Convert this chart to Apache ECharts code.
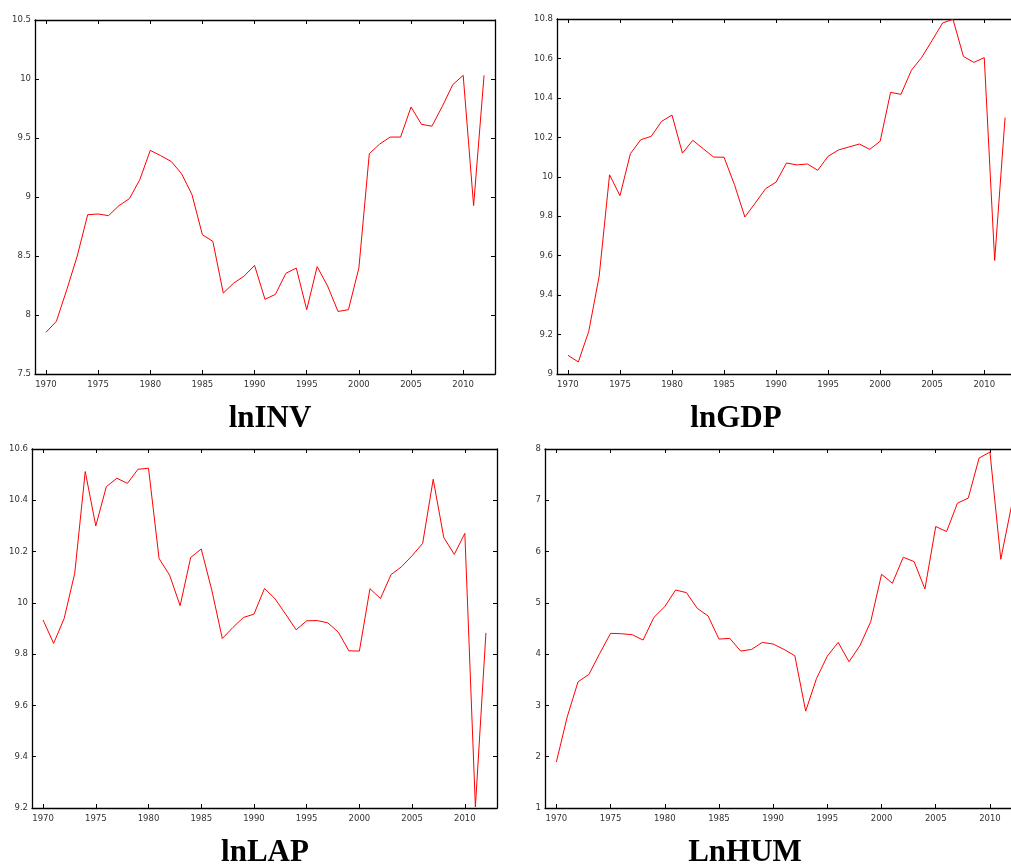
<!DOCTYPE html>
<html>
<head>
<meta charset="utf-8">
<script src="https://cdn.jsdelivr.net/npm/echarts@6/dist/echarts.min.js"></script>
<style>
html,body{margin:0;padding:0;background:#fff;}
#chart{width:1011px;height:865px;}
</style>
</head>
<body>
<div id="chart"></div>
<script>
// ---- data ----
const years = [1970,1971,1972,1973,1974,1975,1976,1977,1978,1979,1980,1981,1982,1983,1984,1985,1986,1987,1988,1989,1990,1991,1992,1993,1994,1995,1996,1997,1998,1999,2000,2001,2002,2003,2004,2005,2006,2007,2008,2009,2010,2011,2012];
const xTicks = [1970,1975,1980,1985,1990,1995,2000,2005,2010];
const titles = ['lnINV','lnGDP','lnLAP','LnHUM'];
const lnINV = [7.853,7.946,8.215,8.50,8.85,8.856,8.842,8.927,8.986,9.147,9.395,9.35,9.302,9.198,9.02,8.68,8.624,8.186,8.27,8.33,8.42,8.133,8.175,8.353,8.398,8.045,8.41,8.246,8.03,8.045,8.398,9.367,9.449,9.508,9.508,9.763,9.616,9.60,9.768,9.952,10.031,8.927,10.031];
const lnGDP = [9.095,9.061,9.216,9.495,10.01,9.904,10.117,10.188,10.205,10.281,10.313,10.12,10.185,10.142,10.10,10.099,9.96,9.796,9.867,9.94,9.973,10.07,10.06,10.065,10.033,10.104,10.136,10.151,10.166,10.139,10.18,10.428,10.418,10.54,10.606,10.692,10.78,10.798,10.61,10.58,10.604,9.576,10.30];
const lnLAP = [9.933,9.842,9.939,10.115,10.512,10.30,10.453,10.486,10.466,10.521,10.525,10.173,10.108,9.989,10.177,10.21,10.05,9.861,9.904,9.943,9.956,10.056,10.016,9.956,9.895,9.93,9.931,9.922,9.886,9.813,9.812,10.055,10.017,10.11,10.141,10.184,10.232,10.482,10.255,10.189,10.271,9.204,9.883];
const LnHUM = [1.898,2.777,3.461,3.604,4.014,4.405,4.398,4.379,4.275,4.717,4.926,5.251,5.199,4.893,4.743,4.294,4.307,4.06,4.092,4.229,4.197,4.092,3.969,2.888,3.526,3.962,4.229,3.852,4.164,4.633,5.557,5.382,5.889,5.805,5.271,6.488,6.391,6.944,7.042,7.823,7.94,5.85,6.90];
const yRanges = [[7.5,10.5,0.5],[9,10.8,0.2],[9.2,10.6,0.2],[1,8,1]];
const seriesData = [lnINV, lnGDP, lnLAP, LnHUM];

// ---- layout ----
const grids = [
  {left:35,  top:20,  width:460, height:354},
  {left:557, top:19,  width:459, height:355},
  {left:32,  top:449, width:465, height:359},
  {left:545, top:449, width:478, height:359}
];
const titlePos = [[270,419],[736,419],[265,853],[745,853]];

const labelFont = {fontFamily:'DejaVu Sans', fontSize:8.5, color:'#333'};
const xAxis = [], yAxis = [], series = [], graphic = [];
grids.forEach((g, i) => {
  const xmin = 1968.95, xmax = 2013.05;
  xAxis.push({type:'value', gridIndex:i, position:'bottom', min:xmin, max:xmax,
    axisLine:{show:true, onZero:false, lineStyle:{color:'#000', width:1.3}},
    axisTick:{show:true, inside:true, length:4, customValues:xTicks, lineStyle:{color:'#000'}},
    axisLabel:{show:true, customValues:xTicks, margin:6, ...labelFont, formatter:v=>String(Math.round(v))},
    splitLine:{show:false}});
  xAxis.push({type:'value', gridIndex:i, position:'top', min:xmin, max:xmax,
    axisLine:{show:true, onZero:false, lineStyle:{color:'#000', width:1.3}},
    axisTick:{show:true, inside:true, length:4, customValues:xTicks, lineStyle:{color:'#000'}},
    axisLabel:{show:false}, splitLine:{show:false}});
  const [ymin, ymax, step] = yRanges[i];
  yAxis.push({type:'value', gridIndex:i, position:'left', min:ymin, max:ymax, interval:step,
    axisLine:{show:true, onZero:false, lineStyle:{color:'#000', width:1.3}},
    axisTick:{show:true, inside:true, length:4, lineStyle:{color:'#000'}},
    axisLabel:{show:true, margin:4, ...labelFont, formatter:v=>String(parseFloat(v.toFixed(2)))},
    splitLine:{show:false}});
  yAxis.push({type:'value', gridIndex:i, position:'right', min:ymin, max:ymax, interval:step,
    axisLine:{show:true, onZero:false, lineStyle:{color:'#000', width:1.3}},
    axisTick:{show:true, inside:true, length:4, lineStyle:{color:'#000'}},
    axisLabel:{show:false}, splitLine:{show:false}});
  series.push({type:'line', xAxisIndex:2*i, yAxisIndex:2*i, symbol:'none', animation:false,
    lineStyle:{color:'#ff0000', width:1}, clip:true,
    data: years.map((y, k) => [y, seriesData[i][k]])});
  graphic.push({type:'text', x:titlePos[i][0], y:titlePos[i][1],
    style:{text:titles[i], font:'bold 31px "Liberation Serif", "Times New Roman", serif', fill:'#000', align:'center', verticalAlign:'middle'}});
});

const chart = echarts.init(document.getElementById('chart'), null, {renderer:'canvas'});
chart.setOption({
  animation:false,
  backgroundColor:'#fff',
  grid: grids.map(g => ({...g, containLabel:false, outerBoundsMode:'none'})),
  xAxis, yAxis, series, graphic
});
</script>
</body>
</html>
